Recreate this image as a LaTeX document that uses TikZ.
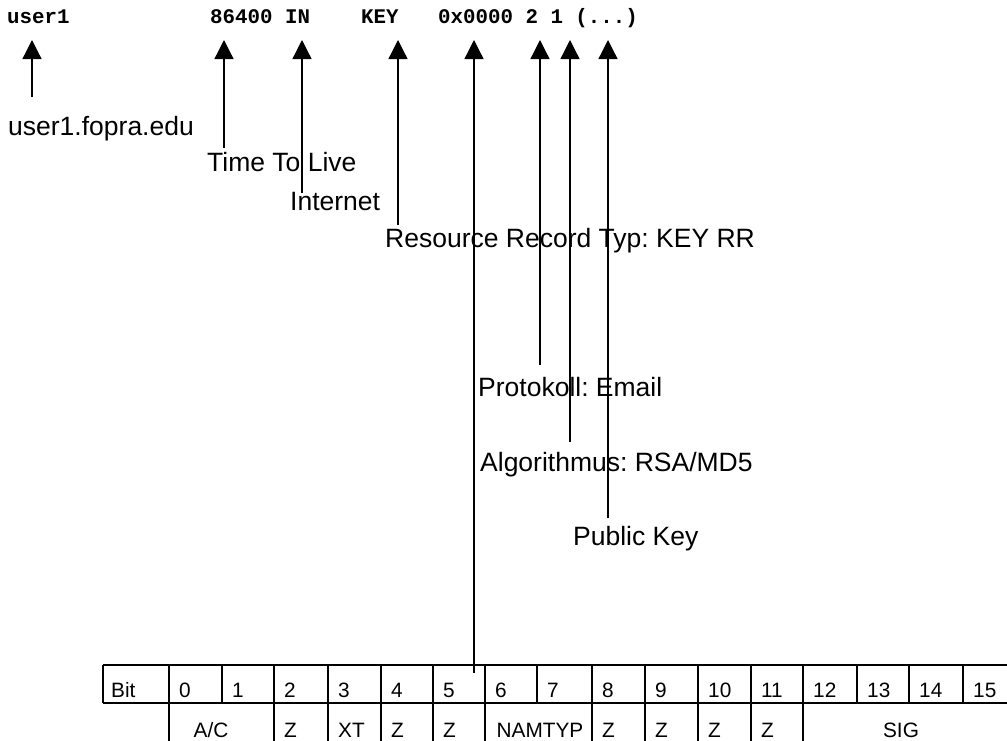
\documentclass[tikz,border=0pt]{standalone}
\usepackage{fontspec}
\setmainfont{Liberation Sans}
\newfontfamily\codefont{Liberation Mono}
\usetikzlibrary{arrows.meta}
\frenchspacing

\tikzset{
  code/.style={anchor=base west, inner sep=0pt, font=\codefont\bfseries\fontsize{20.8}{24}\selectfont},
  lbl/.style={anchor=base west, inner sep=0pt, font=\fontsize{26.5}{30}\selectfont},
  cell/.style={anchor=base west, inner sep=0pt, font=\fontsize{20.8}{24}\selectfont},
  cellc/.style={anchor=base, inner sep=0pt, font=\fontsize{20.8}{24}\selectfont},
  pointer/.style={line width=1.3pt, -{Triangle[length=19pt,width=19pt]}},
  grid/.style={line width=2pt}
}

\begin{document}
\begin{tikzpicture}[x=1pt, y=-1pt]
\useasboundingbox (0,0) rectangle (1007,740);
\clip (0,0) rectangle (1007,740);

% the KEY resource record line
\node[code] (rname) at (7,23) {user1};
\node[code] (rttl)  at (210,23) {86400 IN};
\node[code] (rtype) at (361,23) {KEY};
\node[code] (rdata) at (438,23) {0x0000 2 1 (...)};

% arrow tips below the fields
\coordinate (tName)  at (32,40);
\coordinate (tTTL)   at (224,40);
\coordinate (tIN)    at (302,40);
\coordinate (tKEY)   at (398,40);
\coordinate (tFlags) at (474,40);
\coordinate (tProt)  at (540,40);
\coordinate (tAlg)   at (570,40);
\coordinate (tPub)   at (608,40);

% lower ends of the pointers
\coordinate (eName)  at (32,97);
\coordinate (eTTL)   at (224,148);
\coordinate (eIN)    at (302,193);
\coordinate (eKEY)   at (398,225);
\coordinate (eFlags) at (474,673);
\coordinate (eProt)  at (540,365);
\coordinate (eAlg)   at (570,442);
\coordinate (ePub)   at (608,518);

% explanations
\node[lbl] (lName) at (8,135)   {user1.fopra.edu};
\node[lbl] (lTTL)  at (207,171) {Time To Live};
\node[lbl] (lIN)   at (290,210) {Internet};
\node[lbl] (lKEY)  at (385,247) {Resource Record Typ: KEY RR};
\node[lbl] (lProt) at (478,396) {Protokoll: Email};
\node[lbl] (lAlg)  at (480,471) {Algorithmus: RSA/MD5};
\node[lbl] (lPub)  at (573,545) {Public Key};

\foreach \n in {Name,TTL,IN,KEY,Flags,Prot,Alg,Pub}
  \draw[pointer] (e\n) -- (t\n);

% flags table
\def\rtop{665}\def\rmid{703}\def\rbot{745}
\draw[grid] (103,\rtop) -- (1020,\rtop);
\draw[grid] (103,\rmid) -- (1020,\rmid);
\draw[grid] (103,\rtop) -- (103,\rmid);
\foreach \x in {222,537,857,909,963}
  \draw[grid] (\x,\rtop) -- (\x,\rmid);
\foreach \x in {169,274,328,381,433,485,592,645,698,751,803,1016}
  \draw[grid] (\x,\rtop) -- (\x,\rbot);

% bit numbers
\node[cell] (bit) at (111,697) {Bit};
\foreach \x/\b in {169/0,222/1,274/2,328/3,381/4,433/5,485/6,537/7,592/8,645/9,698/10,751/11,803/12,857/13,909/14,963/15}
  \node[cell] (b\b) at (\x+10,697) {\b};

% flag fields
\node[cellc] (fAC)  at (211,737) {A/C};
\node[cell]  (fZa)  at (284,737) {Z};
\node[cell]  (fXT)  at (338,737) {XT};
\node[cell]  (fZb)  at (391,737) {Z};
\node[cell]  (fZc)  at (443,737) {Z};
\node[cellc] (fNT)  at (540,737) {NAMTYP};
\node[cell]  (fZd)  at (602,737) {Z};
\node[cell]  (fZe)  at (655,737) {Z};
\node[cell]  (fZf)  at (708,737) {Z};
\node[cell]  (fZg)  at (761,737) {Z};
\node[cellc] (fSIG) at (901,737) {SIG};
\end{tikzpicture}
\end{document}
